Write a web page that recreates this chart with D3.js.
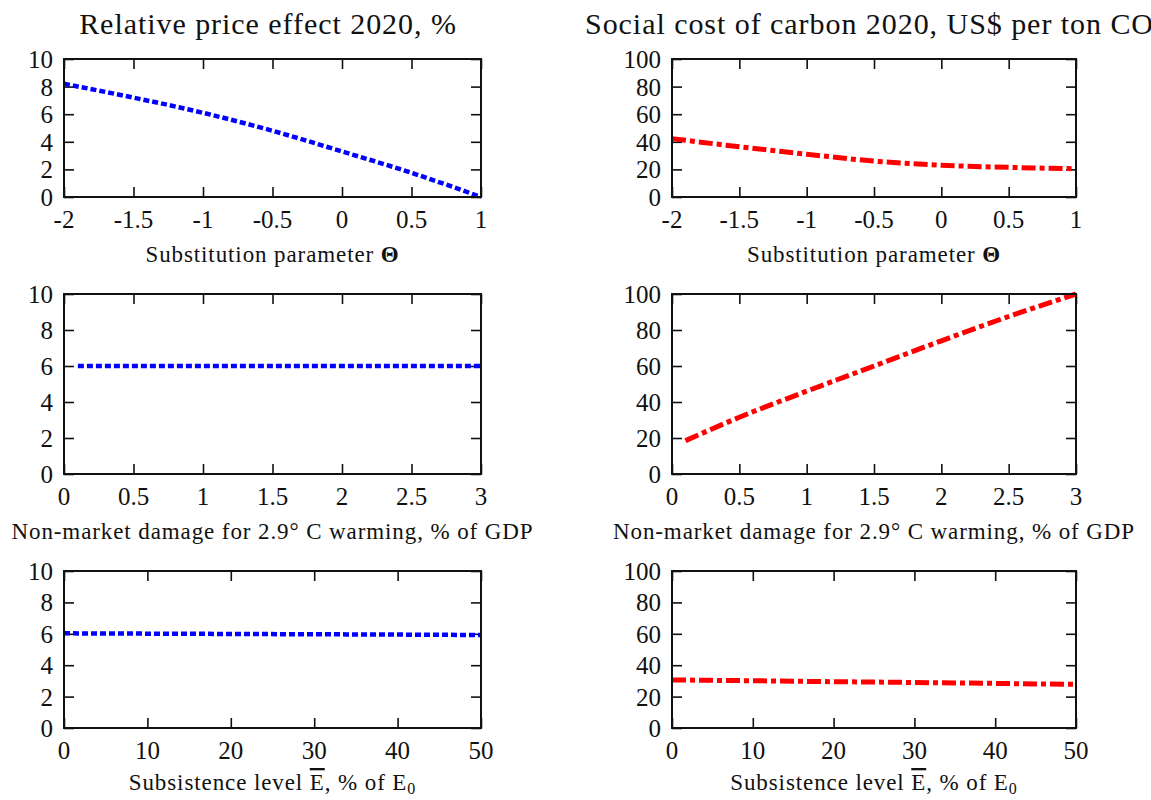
<!DOCTYPE html>
<html>
<head>
<meta charset="utf-8">
<script src="https://cdn.jsdelivr.net/npm/d3@7"></script>
<style>
  html, body { margin: 0; padding: 0; background: #fff; }
  svg { display: block; }
  text { font-family: "Liberation Serif", "Times New Roman", serif; fill: #111; }
</style>
</head>
<body>
<svg id="chart" width="1151" height="800"></svg>
<script>
// Substitution parameter sweep
const thetaX = [-2, -1.5, -1, -0.5, 0, 0.5, 1];
const priceByTheta = [8.2, 7.2, 6.1, 4.8, 3.3, 1.75, 0];
const sccByTheta = [42.3, 36.4, 31.0, 26.0, 23.0, 21.5, 20.5];

// Non-market damage sweep
const damageX = [0.1, 0.5, 1, 1.5, 2, 2.5, 3];
const priceByDamage = [6, 6, 6, 6, 6, 6, 6];
const sccByDamage = [18.5, 31.5, 46, 60, 74, 87.5, 100];

// Subsistence level sweep
const subsistX = [0, 10, 20, 30, 40, 50];
const priceBySubsist = [6.03, 6.01, 5.99, 5.97, 5.95, 5.92];
const sccBySubsist = [30.6, 30.1, 29.5, 29.0, 28.4, 27.8];

// Axis ticks
const thetaTicks = [-2, -1.5, -1, -0.5, 0, 0.5, 1];
const damageTicks = [0, 0.5, 1, 1.5, 2, 2.5, 3];
const subsistTicks = [0, 10, 20, 30, 40, 50];
const priceTicks = [0, 2, 4, 6, 8, 10];
const sccTicks = [0, 20, 40, 60, 80, 100];

const svg = d3.select("#chart");

const cols = [
  { x0: 64, x1: 481, yTicks: priceTicks, yMax: 10, color: "#0000ff", dash: "6,3", width: 4.5 },
  { x0: 672, x1: 1076, yTicks: sccTicks, yMax: 100, color: "#ff0000", dash: "14,4,5,4", width: 5 }
];
const rows = [
  { y0: 59, y1: 197, xs: thetaX, ticks: thetaTicks, dom: [-2, 1], series: [priceByTheta, sccByTheta], label: "theta", capY: 65 },
  { y0: 294, y1: 474, xs: damageX, ticks: damageTicks, dom: [0, 3], series: [priceByDamage, sccByDamage], label: "damage", capY: 65 },
  { y0: 571, y1: 728, xs: subsistX, ticks: subsistTicks, dom: [0, 50], series: [priceBySubsist, sccBySubsist], label: "subsist", capY: 62 }
];

const fmt = v => String(v);

rows.forEach(row => {
  cols.forEach((col, ci) => {
    const x = d3.scaleLinear().domain(row.dom).range([col.x0, col.x1]);
    const y = d3.scaleLinear().domain([0, col.yMax]).range([row.y1, row.y0]);
    const g = svg.append("g");

    // mirrored inward ticks on all four sides
    const tl = 10;
    g.append("g").attr("transform", `translate(0,${row.y1})`)
      .call(d3.axisBottom(x).tickValues(row.ticks).tickSize(-tl).tickFormat(""))
      .call(a => a.select(".domain").remove());
    g.append("g").attr("transform", `translate(0,${row.y0})`)
      .call(d3.axisTop(x).tickValues(row.ticks).tickSize(-tl).tickFormat(""))
      .call(a => a.select(".domain").remove());
    g.append("g").attr("transform", `translate(${col.x0},0)`)
      .call(d3.axisLeft(y).tickValues(col.yTicks).tickSize(-tl).tickFormat(""))
      .call(a => a.select(".domain").remove());
    g.append("g").attr("transform", `translate(${col.x1},0)`)
      .call(d3.axisRight(y).tickValues(col.yTicks).tickSize(-tl).tickFormat(""))
      .call(a => a.select(".domain").remove());
    g.selectAll(".tick line").attr("stroke", "#111").attr("stroke-width", 1.6);

    // tick labels
    g.selectAll(".xl").data(row.ticks).join("text")
      .attr("x", d => x(d)).attr("y", row.y1 + 31)
      .attr("text-anchor", "middle").attr("font-size", 25)
      .text(fmt);
    g.selectAll(".yl").data(col.yTicks).join("text")
      .attr("x", col.x0 - 11).attr("y", d => y(d) + 9)
      .attr("text-anchor", "end").attr("font-size", 25)
      .text(fmt);

    // series line
    const vals = row.series[ci];
    const pts = row.xs.map((v, i) => [v, vals[i]]);
    g.append("path").datum(pts)
      .attr("fill", "none")
      .attr("stroke", col.color)
      .attr("stroke-width", col.width)
      .attr("stroke-dasharray", col.dash)
      .attr("d", d3.line().x(d => x(d[0])).y(d => y(d[1])).curve(d3.curveMonotoneX));

    // frame
    g.append("rect")
      .attr("x", col.x0).attr("y", row.y0)
      .attr("width", col.x1 - col.x0).attr("height", row.y1 - row.y0)
      .attr("fill", "none").attr("stroke", "#111").attr("stroke-width", 2);

    // x-axis caption
    const cx = (col.x0 + col.x1) / 2;
    const cap = g.append("text").attr("x", cx).attr("y", row.y1 + row.capY)
      .attr("text-anchor", "middle").attr("font-size", 23)
      .attr("letter-spacing", 0.9);
    if (row.label === "theta") {
      cap.text("Substitution parameter ");
      cap.append("tspan").attr("font-weight", "bold").text("Θ");
    } else if (row.label === "damage") {
      cap.text("Non-market damage for 2.9° C warming, % of GDP");
    } else {
      cap.append("tspan").text("Subsistence level ");
      cap.append("tspan").style("text-decoration", "overline").text("E");
      cap.append("tspan").text(", % of E");
      cap.append("tspan").attr("dy", 4).attr("font-size", 16).text("0");
    }
  });
});

// panel titles
svg.append("text").attr("x", 268).attr("y", 34)
  .attr("text-anchor", "middle").attr("font-size", 30).attr("letter-spacing", 0.95)
  .text("Relative price effect 2020, %");
svg.append("text").attr("x", 585).attr("y", 34)
  .attr("text-anchor", "start").attr("font-size", 30).attr("letter-spacing", 0.95)
  .text("Social cost of carbon 2020, US$ per ton CO₂");
</script>
</body>
</html>
